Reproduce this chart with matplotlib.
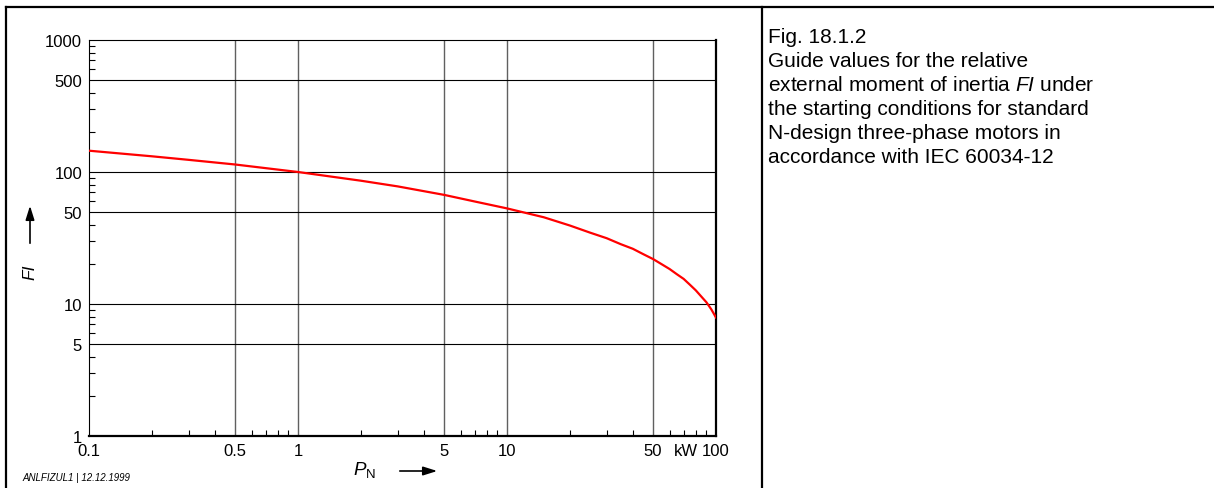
import matplotlib
matplotlib.use("Agg")
import matplotlib.pyplot as plt
from matplotlib.lines import Line2D
from matplotlib.ticker import LogLocator, NullFormatter

plt.rcParams["font.family"] = ["Liberation Sans", "DejaVu Sans"]
plt.rcParams["mathtext.fontset"] = "custom"
plt.rcParams["mathtext.rm"] = "Liberation Sans"
plt.rcParams["mathtext.it"] = "Liberation Sans:italic"

# Rated power (kW) and relative external moment of inertia FI
power_kw = [0.1, 0.2, 0.3, 0.5, 1, 2, 3, 5, 7, 10, 15, 20, 25, 30, 35, 40,
            45, 50, 55, 60, 65, 70, 75, 80, 85, 90, 95, 100]
fi_values = [145, 131.5, 123.6, 114, 100, 85.9, 77.8, 67.1, 59.8, 53.0, 45.4,
             39.3, 34.7, 31.5, 28.4, 26.2, 23.8, 21.9, 20.0, 18.4, 16.8, 15.5,
             14.0, 12.7, 11.4, 10.3, 9.1, 7.9]

x_ticks = [0.1, 0.5, 1, 5, 10, 50, 100]
x_tick_labels = ["0.1", "0.5", "1", "5", "10", "50", "100"]
y_ticks = [1, 5, 10, 50, 100, 500, 1000]
y_tick_labels = ["1", "5", "10", "50", "100", "500", "1000"]
x_grid = [0.5, 1, 5, 10, 50]
y_grid = [5, 10, 50, 100, 500]

caption_lines = [
    "Fig. 18.1.2",
    "Guide values for the relative",
    r"external moment of inertia $\mathit{FI}$ under",
    "the starting conditions for standard",
    "N-design three-phase motors in",
    "accordance with IEC 60034-12",
]

W, H = 1214, 489
fig = plt.figure(figsize=(W / 100, H / 100), dpi=100)
fig.patch.set_facecolor("white")


def fx(px):
    return px / W


def fy(py):
    return 1 - py / H


ax = fig.add_axes([fx(89), fy(437), fx(716) - fx(89), fy(41) - fy(437)])
ax.set_xscale("log")
ax.set_yscale("log")
ax.set_xlim(0.1, 100)
ax.set_ylim(1, 1000)

for xv in x_grid:
    ax.axvline(xv, color="#606060", lw=1.0, zorder=1)
for yv in y_grid:
    ax.axhline(yv, color="black", lw=0.8, zorder=1)

ax.plot(power_kw, fi_values, color="#ff0000", lw=1.6, zorder=3,
        solid_joinstyle="round")

ax.set_xticks(x_ticks)
ax.set_xticklabels(x_tick_labels)
ax.set_yticks(y_ticks)
ax.set_yticklabels(y_tick_labels)
ax.xaxis.set_minor_locator(LogLocator(base=10, subs=(2, 3, 4, 6, 7, 8, 9)))
ax.yaxis.set_minor_locator(LogLocator(base=10, subs=(2, 3, 4, 6, 7, 8, 9)))
ax.xaxis.set_minor_formatter(NullFormatter())
ax.yaxis.set_minor_formatter(NullFormatter())
ax.tick_params(which="major", length=0, labelsize=12, pad=5,
               colors="black")
ax.tick_params(which="minor", direction="in", length=4, width=0.8,
               left=True, bottom=True, top=False, right=False)

for side in ("top", "left"):
    ax.spines[side].set_linewidth(0.8)
for side in ("bottom", "right"):
    ax.spines[side].set_linewidth(1.6)

ax.annotate("kW", xy=(72, 0), xycoords=("data", "axes fraction"),
            xytext=(0, -5), textcoords="offset points",
            ha="center", va="top", fontsize=12)

# axis captions with arrows
fig.text(fx(30), fy(272), "FI", rotation=90, style="italic",
         ha="center", va="center", fontsize=12.5)
fig.add_artist(plt.Annotation(
    "", xy=(fx(30), fy(204)), xytext=(fx(30), fy(247)),
    xycoords="figure fraction", textcoords="figure fraction",
    arrowprops=dict(arrowstyle="-|>,head_length=0.7,head_width=0.22",
                    color="black", lw=1.2, mutation_scale=12)))

fig.text(fx(365), fy(470), r"$P_{\mathrm{N}}$", ha="center", va="center",
         fontsize=13.5)
fig.add_artist(plt.Annotation(
    "", xy=(fx(440), fy(472)), xytext=(fx(397), fy(472)),
    xycoords="figure fraction", textcoords="figure fraction",
    arrowprops=dict(arrowstyle="-|>,head_length=0.7,head_width=0.22",
                    color="black", lw=1.2, mutation_scale=12)))

fig.text(fx(22), fy(478), "ANLFIZUL1 | 12.12.1999", style="italic",
         ha="left", va="center", fontsize=7)

# caption block on the right
for i, line in enumerate(caption_lines):
    fig.text(fx(768), fy(43 + 24 * i), line, ha="left", va="baseline",
             fontsize=15)

# page frame
frame_kw = dict(color="black", lw=1.6, transform=fig.transFigure)
fig.add_artist(Line2D([fx(6), 1], [fy(8), fy(8)], **frame_kw))
fig.add_artist(Line2D([fx(6), fx(6)], [0, fy(8)], **frame_kw))
fig.add_artist(Line2D([fx(762), fx(762)], [0, fy(8)], **frame_kw))

fig.savefig("out.png", dpi=100, facecolor="white")
